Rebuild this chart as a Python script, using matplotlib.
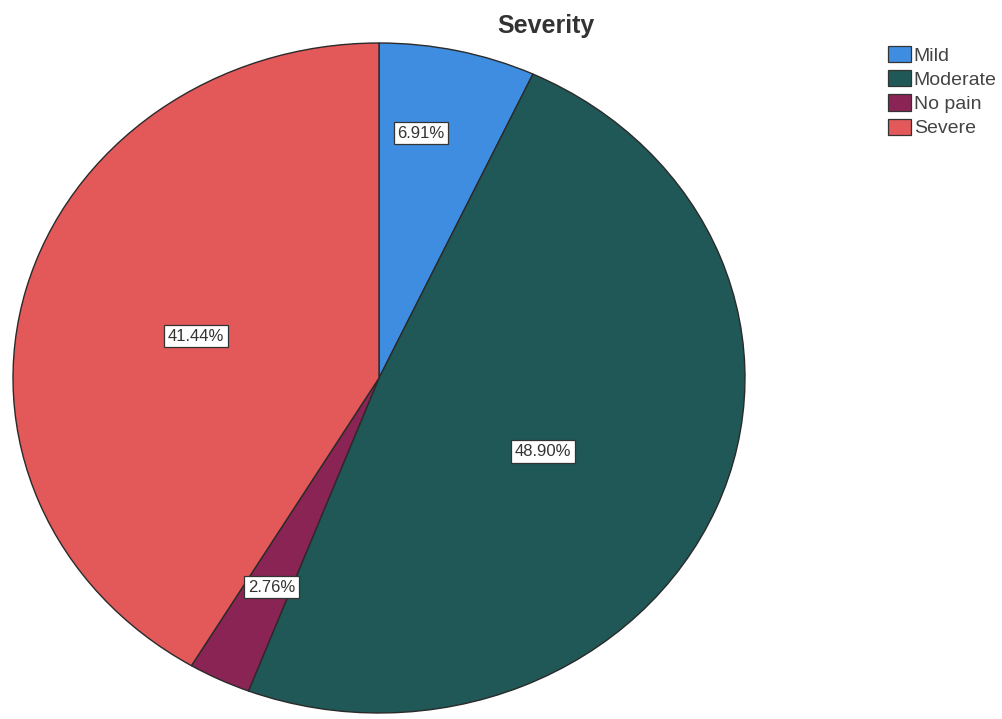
import numpy as np
import matplotlib.pyplot as plt
from matplotlib.patches import Patch

plt.rcParams["font.family"] = ["Liberation Sans", "DejaVu Sans"]

categories = ["Mild", "Moderate", "No pain", "Severe"]
percents = [6.91, 48.90, 2.76, 41.44]
colors = ["#3f8de0", "#1f5856", "#8a2455", "#e35858"]

# label placement: distance from centre (fraction of radius) and small angle nudge (deg)
label_radius = [0.74, 0.50, 0.69, 0.515]
label_nudge = [3.5, -3.2, 0.7, 1.4]

fig = plt.figure(figsize=(10.03, 7.19), dpi=100)
ax = fig.add_axes([13 / 1003, 6 / 719, 732 / 1003, 670 / 719])

wedges, _ = ax.pie(percents, colors=colors, startangle=90, counterclock=False,
                   wedgeprops=dict(edgecolor="#2a2a2a", linewidth=1.0))
ax.set_aspect("auto")
ax.set_xlim(-1, 1)
ax.set_ylim(-1, 1)
ax.axis("off")

for w, p, r, d in zip(wedges, percents, label_radius, label_nudge):
    mid = np.deg2rad((w.theta1 + w.theta2) / 2 + d)
    ax.text(r * np.cos(mid), r * np.sin(mid), f"{p:.2f}%", ha="center", va="center",
            fontsize=12, color="#333333",
            bbox=dict(boxstyle="square,pad=0.22", facecolor="white", edgecolor="#333333", linewidth=0.9))

fig.text(546 / 1003, 1 - 33 / 719, "Severity", ha="center", va="baseline",
         fontsize=18, fontweight="bold", color="#333333")

handles = [Patch(facecolor=c, edgecolor="#333333", linewidth=0.9) for c in colors]
leg = fig.legend(handles, categories, loc="upper left", bbox_to_anchor=(888 / 1003, 1 - 46 / 719),
                 frameon=False, fontsize=14, handlelength=1.18, handleheight=0.9,
                 handletextpad=0.15, labelspacing=0.28, borderpad=0, borderaxespad=0)
for t in leg.get_texts():
    t.set_color("#444444")

fig.savefig("out.png", dpi=100)
